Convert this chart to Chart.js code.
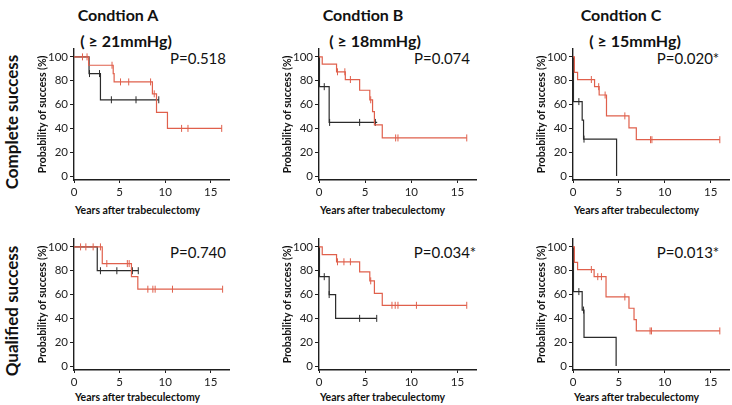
<!DOCTYPE html>
<html>
<head>
<meta charset="utf-8">
<script src="https://cdn.jsdelivr.net/npm/chart.js@4.4.1/dist/chart.umd.min.js"></script>
<style>
body { margin:0; width:732px; height:405px; overflow:hidden; background:#fff; position:relative; font-family:Lato, "Noto Sans", sans-serif; }
canvas { position:absolute; }
.t { position:absolute; white-space:nowrap; color:#111; transform:translate(-50%,-50%); }
.col { font-weight:bold; font-size:16px; }
.row { font-weight:bold; font-size:17px; transform:translate(-50%,-50%) rotate(-90deg); }
.p { font-size:15px; }
.xt { font-weight:bold; font-size:10.5px; transform:translate(0,-50%); }
</style>
</head>
<body>

<div class="t col" style="left:118px;top:14px">Condtion A</div>
<div class="t col" style="left:126px;top:40px">( ≥ 21mmHg)</div>
<div class="t col" style="left:363px;top:14px">Condtion B</div>
<div class="t col" style="left:375px;top:40px">( ≥ 18mmHg)</div>
<div class="t col" style="left:621px;top:14px">Condtion C</div>
<div class="t col" style="left:635px;top:40px">( ≥ 15mmHg)</div>

<div class="t row" style="left:11px;top:122px">Complete success</div>
<div class="t row" style="left:11px;top:311px">Qualified success</div>

<div class="t p" style="left:198px;top:58px">P=0.518</div>
<div class="t p" style="left:442px;top:58px">P=0.074</div>
<div class="t p" style="left:688px;top:58px">P=0.020*</div>
<div class="t p" style="left:198px;top:252px">P=0.740</div>
<div class="t p" style="left:445px;top:252px">P=0.034*</div>
<div class="t p" style="left:688px;top:252px">P=0.013*</div>

<div class="t xt" style="left:75px;top:210px">Years after trabeculectomy</div>
<div class="t xt" style="left:320px;top:210px">Years after trabeculectomy</div>
<div class="t xt" style="left:574px;top:210px">Years after trabeculectomy</div>
<div class="t xt" style="left:75px;top:397px">Years after trabeculectomy</div>
<div class="t xt" style="left:320px;top:397px">Years after trabeculectomy</div>
<div class="t xt" style="left:574px;top:397px">Years after trabeculectomy</div>

<script>
// tick labels
const xTicks = [0, 5, 10, 15];
const yTicks = [0, 20, 40, 60, 80, 100];

// --- Complete success, condition A
const compA_redT = [0, 1.6, 4.3, 4.4, 8.6, 9.05, 10.25, 16.2];
const compA_redS = [100, 93, 86, 79, 69, 53.5, 40, 40];
const compA_redC = [0.93, 1.43, 4.17, 5.1, 6.0, 8.4, 8.8, 11.8, 12.5, 16.2];
const compA_blkT = [0, 1.65, 2.9, 9.3];
const compA_blkS = [100, 86, 64, 64];
const compA_blkC = [1.7, 2.8, 4.1, 6.8, 9.3];

// --- Complete success, condition B
const compB_redT = [0, 0.35, 1.9, 2.85, 4.4, 5.5, 5.8, 6.0, 6.85, 16.0];
const compB_redS = [100, 94, 87.5, 81, 72, 64, 54, 43, 32, 32];
const compB_redC = [2.0, 2.8, 3.4, 5.6, 8.3, 8.55, 16.0];
const compB_blkT = [0, 0.05, 1.1, 6.3];
const compB_blkS = [100, 75, 45, 45];
const compB_blkC = [0.57, 1.15, 4.4, 6.1];

// --- Complete success, condition C
const compC_redT = [0, 0.15, 0.5, 2.35, 2.85, 3.65, 6.1, 6.9, 16.0];
const compC_redS = [100, 87, 81, 75, 68, 50.5, 40.5, 30.5, 30.5];
const compC_redC = [2.0, 2.8, 3.5, 5.65, 8.45, 8.6, 16.0];
const compC_blkT = [0, 0.05, 1.0, 1.15, 4.75];
const compC_blkS = [100, 62.5, 47, 31, 0];
const compC_blkC = [0.64, 1.2];

// --- Qualified success, condition A
const qualA_redT = [0, 3.1, 6.3, 7.0, 16.3];
const qualA_redS = [100, 86, 75, 64.5, 64.5];
const qualA_redC = [0.72, 1.3, 2.1, 2.9, 3.6, 5.85, 6.05, 8.1, 8.65, 8.9, 10.8, 16.3];
const qualA_blkT = [0, 2.55, 7.05];
const qualA_blkS = [100, 80, 80];
const qualA_blkC = [2.9, 4.7, 6.4, 7.05];

// --- Qualified success, condition B
const qualB_redT = [0, 0.35, 1.9, 4.4, 5.5, 6.0, 6.85, 16.0];
const qualB_redS = [100, 93.5, 87.5, 79, 71.5, 61, 51, 51];
const qualB_redC = [2.0, 2.7, 3.4, 5.6, 7.9, 8.25, 8.55, 10.55, 16.0];
const qualB_blkT = [0, 0.05, 1.1, 1.8, 6.25];
const qualB_blkS = [100, 75, 60, 40, 40];
const qualB_blkC = [0.57, 1.1, 4.4, 6.25];

// --- Qualified success, condition C
const qualC_redT = [0, 0.15, 0.5, 2.3, 3.6, 6.1, 6.65, 6.9, 16.0];
const qualC_redS = [100, 87, 81, 75, 58, 48.5, 39, 29.5, 29.5];
const qualC_redC = [2.0, 2.7, 3.1, 5.65, 8.4, 8.55, 16.0];
const qualC_blkT = [0, 0.05, 1.0, 1.2, 4.7];
const qualC_blkS = [100, 62.5, 47, 24, 0];
const qualC_blkC = [0.64, 1.15];

const RED = '#e0604c';
const BLK = '#2b2b2b';
const AXIS = '#1e1e1e';

// plot area positions on the page
const colAxisX = [74, 319, 573];
const colRight = [232, 479, 732];
const rowTop = [48, 238];
const rowBottom = [180, 370];

// survival value at time t (for censor marks)
function survAt(T, S, t) {
	let v = S[0];
	for (let i = 0; i < T.length; i++) {
		if (T[i] <= t + 1e-9) v = S[i];
	}
	return v;
}

function stepSet(T, S, color) {
	return {
		type: 'line',
		data: T.map((t, i) => ({ x: t, y: S[i] })),
		stepped: 'before',
		borderColor: color,
		borderWidth: 1.2,
		pointRadius: 0,
		fill: false
	};
}

function censorSet(T, S, C, color) {
	return {
		type: 'scatter',
		data: C.map(t => ({ x: t, y: survAt(T, S, t) })),
		showLine: false,
		pointStyle: 'line',
		rotation: 90,
		pointRadius: 3.5,
		borderColor: color,
		borderWidth: 1
	};
}

function makePanel(col, row, red, blk) {
	const left = colAxisX[col] - 44;
	const top = rowTop[row] - 8;
	const w = colRight[col] - left + 2;
	const h = (rowBottom[row] - rowTop[row]) + 8 + 22;

	const cv = document.createElement('canvas');
	cv.width = w;
	cv.height = h;
	cv.style.left = left + 'px';
	cv.style.top = top + 'px';
	document.body.appendChild(cv);

	new Chart(cv.getContext('2d'), {
		type: 'line',
		data: {
			datasets: [
				stepSet(red[0], red[1], RED),
				censorSet(red[0], red[1], red[2], RED),
				stepSet(blk[0], blk[1], BLK),
				censorSet(blk[0], blk[1], blk[2], BLK)
			]
		},
		options: {
			responsive: false,
			animation: false,
			layout: { padding: { top: 8, right: 2, left: 0, bottom: 0 } },
			plugins: { legend: { display: false }, tooltip: { enabled: false } },
			scales: {
				x: {
					type: 'linear',
					min: 0,
					max: 17,
					afterBuildTicks: s => { s.ticks = xTicks.map(v => ({ value: v })); },
					afterFit: s => { s.height = 22; },
					grid: { drawOnChartArea: false, drawTicks: true, tickLength: 3, color: AXIS },
					border: { display: true, color: AXIS, width: 1.4 },
					ticks: { color: '#222', font: { family: 'Lato', size: 11.5 }, padding: 2, maxRotation: 0 }
				},
				y: {
					type: 'linear',
					min: -3.3,
					max: 106.7,
					afterBuildTicks: s => { s.ticks = yTicks.map(v => ({ value: v })); },
					afterFit: s => { s.width = 44; },
					grid: { drawOnChartArea: false, drawTicks: true, tickLength: 4, color: AXIS },
					border: { display: true, color: AXIS, width: 1.4 },
					ticks: { color: '#222', font: { family: 'Lato', size: 11.5 }, padding: 2 },
					title: {
						display: true,
						text: 'Probability of success (%)',
						color: '#111',
						font: { family: 'Lato', size: 10.5, weight: 'bold' },
						padding: { top: 6, bottom: 0 }
					}
				}
			}
		}
	});
}

makePanel(0, 0, [compA_redT, compA_redS, compA_redC], [compA_blkT, compA_blkS, compA_blkC]);
makePanel(1, 0, [compB_redT, compB_redS, compB_redC], [compB_blkT, compB_blkS, compB_blkC]);
makePanel(2, 0, [compC_redT, compC_redS, compC_redC], [compC_blkT, compC_blkS, compC_blkC]);
makePanel(0, 1, [qualA_redT, qualA_redS, qualA_redC], [qualA_blkT, qualA_blkS, qualA_blkC]);
makePanel(1, 1, [qualB_redT, qualB_redS, qualB_redC], [qualB_blkT, qualB_blkS, qualB_blkC]);
makePanel(2, 1, [qualC_redT, qualC_redS, qualC_redC], [qualC_blkT, qualC_blkS, qualC_blkC]);
</script>
</body>
</html>
